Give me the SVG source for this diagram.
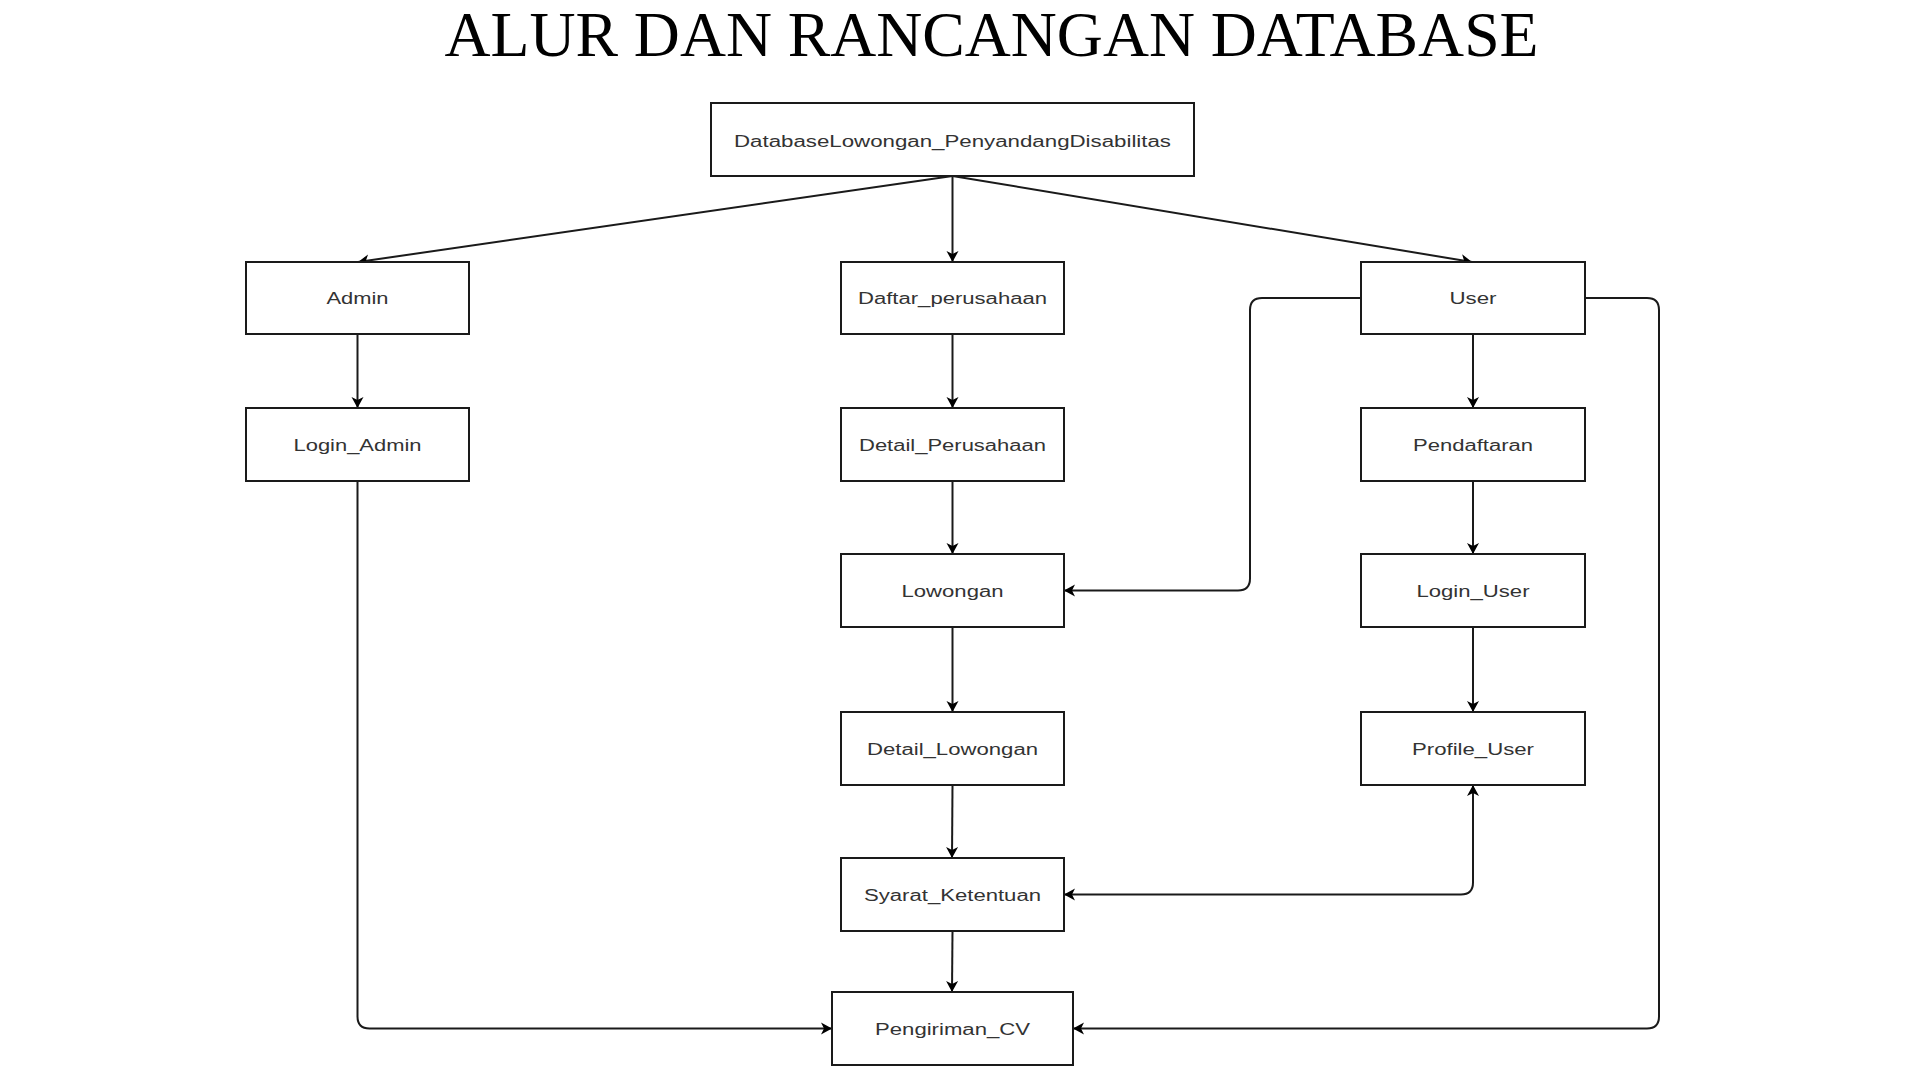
<svg xmlns="http://www.w3.org/2000/svg" width="1920" height="1080" viewBox="0 0 1920 1080">
<style>
.box{fill:#ffffff;stroke:#1a1a1a;stroke-width:2}
.lbl{font-family:"Liberation Sans",Arial,sans-serif;font-size:16px;fill:#333333;text-anchor:middle}
.title{font-family:"Liberation Serif","Times New Roman",serif;font-size:63px;fill:#000000;text-anchor:middle}
.edge{fill:none;stroke:#1a1a1a;stroke-width:2}
.arr{marker-end:url(#ah)}
</style>
<defs>
<marker id="ah" viewBox="-12 -7 13 14" markerWidth="13" markerHeight="14" refX="0" refY="0" markerUnits="userSpaceOnUse" orient="auto-start-reverse">
<path d="M0,0 L-11,-6 L-8,0 L-11,6 Z" fill="#000000"/>
</marker>
</defs>
<rect width="1920" height="1080" fill="#ffffff"/>
<text class="title" x="991.5" y="56" textLength="1094" lengthAdjust="spacingAndGlyphs">ALUR DAN RANCANGAN DATABASE</text>

<g id="connectors">
<path class="edge arr" d="M952.5,176 L358,262"/>
<path class="edge arr" d="M952.5,176 L952.5,262"/>
<path class="edge arr" d="M952.5,176 L1472,262"/>
<path class="edge arr" d="M357.5,334 L357.5,408"/>
<path class="edge arr" d="M357.5,481 L357.5,1016.5 Q357.5,1028.5 369.5,1028.5 L832,1028.5"/>
<path class="edge arr" d="M952.5,334 L952.5,408"/>
<path class="edge arr" d="M952.5,481 L952.5,554"/>
<path class="edge arr" d="M952.5,627 L952.5,712"/>
<path class="edge arr" d="M952.5,785 L952,858"/>
<path class="edge arr" d="M952.5,931 L952,992"/>
<path class="edge arr" d="M1473,334 L1473,408"/>
<path class="edge arr" d="M1473,481 L1473,554"/>
<path class="edge arr" d="M1473,627 L1473,712"/>
<path class="edge arr" d="M1361,298 L1262,298 Q1250,298 1250,310 L1250,578.5 Q1250,590.5 1238,590.5 L1064,590.5"/>
<path class="edge arr" d="M1585,298 L1647,298 Q1659,298 1659,310 L1659,1016.5 Q1659,1028.5 1647,1028.5 L1073,1028.5"/>
<path class="edge arr" d="M1064,894.5 L1461,894.5 Q1473,894.5 1473,882.5 L1473,785" marker-start="url(#ah)"/>
</g>

<g id="node-database">
<rect class="box" x="711" y="103" width="483" height="73"/>
<text class="lbl" x="952.5" y="147" textLength="437" lengthAdjust="spacingAndGlyphs">DatabaseLowongan_PenyandangDisabilitas</text>
</g>
<g id="node-admin">
<rect class="box" x="246" y="262" width="223" height="72"/>
<text class="lbl" x="357.5" y="304" textLength="62" lengthAdjust="spacingAndGlyphs">Admin</text>
</g>
<g id="node-login-admin">
<rect class="box" x="246" y="408" width="223" height="73"/>
<text class="lbl" x="357.5" y="451" textLength="128" lengthAdjust="spacingAndGlyphs">Login_Admin</text>
</g>
<g id="node-daftar-perusahaan">
<rect class="box" x="841" y="262" width="223" height="72"/>
<text class="lbl" x="952.5" y="304" textLength="189" lengthAdjust="spacingAndGlyphs">Daftar_perusahaan</text>
</g>
<g id="node-detail-perusahaan">
<rect class="box" x="841" y="408" width="223" height="73"/>
<text class="lbl" x="952.5" y="451" textLength="187" lengthAdjust="spacingAndGlyphs">Detail_Perusahaan</text>
</g>
<g id="node-lowongan">
<rect class="box" x="841" y="554" width="223" height="73"/>
<text class="lbl" x="952.5" y="597" textLength="102" lengthAdjust="spacingAndGlyphs">Lowongan</text>
</g>
<g id="node-detail-lowongan">
<rect class="box" x="841" y="712" width="223" height="73"/>
<text class="lbl" x="952.5" y="755" textLength="171" lengthAdjust="spacingAndGlyphs">Detail_Lowongan</text>
</g>
<g id="node-syarat-ketentuan">
<rect class="box" x="841" y="858" width="223" height="73"/>
<text class="lbl" x="952.5" y="901" textLength="177" lengthAdjust="spacingAndGlyphs">Syarat_Ketentuan</text>
</g>
<g id="node-pengiriman-cv">
<rect class="box" x="832" y="992" width="241" height="73"/>
<text class="lbl" x="952.5" y="1035" textLength="155" lengthAdjust="spacingAndGlyphs">Pengiriman_CV</text>
</g>
<g id="node-user">
<rect class="box" x="1361" y="262" width="224" height="72"/>
<text class="lbl" x="1473" y="304" textLength="47" lengthAdjust="spacingAndGlyphs">User</text>
</g>
<g id="node-pendaftaran">
<rect class="box" x="1361" y="408" width="224" height="73"/>
<text class="lbl" x="1473" y="451" textLength="120" lengthAdjust="spacingAndGlyphs">Pendaftaran</text>
</g>
<g id="node-login-user">
<rect class="box" x="1361" y="554" width="224" height="73"/>
<text class="lbl" x="1473" y="597" textLength="113" lengthAdjust="spacingAndGlyphs">Login_User</text>
</g>
<g id="node-profile-user">
<rect class="box" x="1361" y="712" width="224" height="73"/>
<text class="lbl" x="1473" y="755" textLength="122" lengthAdjust="spacingAndGlyphs">Profile_User</text>
</g>
</svg>
